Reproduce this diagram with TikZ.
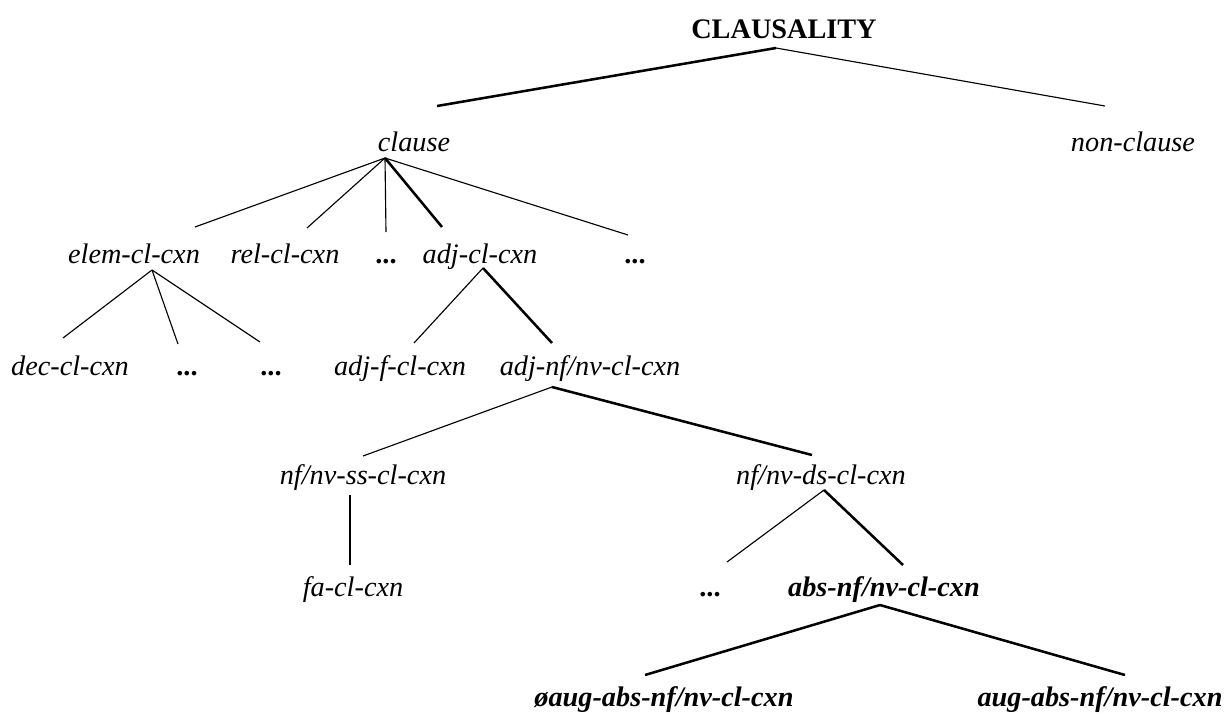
\documentclass[tikz,border=0pt]{standalone}
\usepackage{fontspec}
\setmainfont{Liberation Serif}
\usetikzlibrary{calc}
\begin{document}
\begin{tikzpicture}[x=0.75pt,y=-0.75pt,
  lab/.style={anchor=base,inner sep=0pt,font=\fontsize{21.2}{25}\selectfont\itshape},
  blab/.style={anchor=base,inner sep=0pt,font=\fontsize{21.2}{25}\selectfont\bfseries\itshape},
  toplab/.style={anchor=base,inner sep=0pt,font=\fontsize{21.2}{25}\selectfont\bfseries},
  thin/.style={line width=0.85pt},
  heavy/.style={line width=1.9pt}]
\useasboundingbox (0,0) rectangle (1232,715);
% nodes
\node[toplab] (top) at (784,38) {CLAUSALITY};
\node[lab] (clause) at (414,151) {clause};
\node[lab] (non) at (1133,151) {non-clause};
\node[lab] (elem) at (134,263) {elem-cl-cxn};
\node[lab] (rel) at (285,263) {rel-cl-cxn};
\node[toplab] (d1) at (386,263) {...};
\node[lab] (adjcl) at (480,263) {adj-cl-cxn};
\node[toplab] (d2) at (635,263) {...};
\node[lab] (dec) at (70,375) {dec-cl-cxn};
\node[toplab] (d3) at (187,375) {...};
\node[toplab] (d4) at (271,375) {...};
\node[lab] (adjf) at (400,375) {adj-f-cl-cxn};
\node[lab] (adjnf) at (590,375) {adj-nf/nv-cl-cxn};
\node[lab] (ss) at (363,484) {nf/nv-ss-cl-cxn};
\node[lab] (ds) at (821,484) {nf/nv-ds-cl-cxn};
\node[lab] (fa) at (353,596) {fa-cl-cxn};
\node[toplab] (d5) at (710,596) {...};
\node[blab] (abs) at (884,596) {abs-nf/nv-cl-cxn};
\node[blab] (oaug) at (664,706) {øaug-abs-nf/nv-cl-cxn};
\node[blab] (aug) at (1100,706) {aug-abs-nf/nv-cl-cxn};
% connectors
\draw[heavy] ($(top.base)+(-8,10)$) -- ($(clause.base)+(23,-45)$);
\draw[thin] ($(top.base)+(-8,10)$) -- ($(non.base)+(-28,-45)$);
\draw[thin] ($(clause.base)+(-29,7)$) -- ($(elem.base)+(61,-36)$);
\draw[thin] ($(clause.base)+(-29,7)$) -- ($(rel.base)+(22,-35)$);
\draw[thin] ($(clause.base)+(-29,7)$) -- ($(d1.base)+(0,-31)$);
\draw[heavy] ($(clause.base)+(-29,7)$) -- ($(adjcl.base)+(-38,-36)$);
\draw[thin] ($(clause.base)+(-29,7)$) -- ($(d2.base)+(-7,-28)$);
\draw[thin] ($(elem.base)+(18,7)$) -- ($(dec.base)+(-7,-37)$);
\draw[thin] ($(elem.base)+(18,7)$) -- ($(d3.base)+(-9,-31)$);
\draw[thin] ($(elem.base)+(18,7)$) -- ($(d4.base)+(-11,-33)$);
\draw[thin] ($(adjcl.base)+(3,5)$) -- ($(adjf.base)+(14,-32)$);
\draw[heavy] ($(adjcl.base)+(3,5)$) -- ($(adjnf.base)+(-38,-32)$);
\draw[thin] ($(adjnf.base)+(-38,12)$) -- ($(ss.base)+(0,-28)$);
\draw[heavy] ($(adjnf.base)+(-38,12)$) -- ($(ds.base)+(-9,-29)$);
\draw[thin] ($(ss.base)+(-13,11)$) -- ($(fa.base)+(-3,-31)$);
\draw[thin] ($(ds.base)+(3,6)$) -- ($(d5.base)+(17,-34)$);
\draw[heavy] ($(ds.base)+(3,6)$) -- ($(abs.base)+(19,-31)$);
\draw[heavy] ($(abs.base)+(-4,9)$) -- ($(oaug.base)+(-19,-31)$);
\draw[heavy] ($(abs.base)+(-4,9)$) -- ($(aug.base)+(25,-31)$);
\end{tikzpicture}
\end{document}
